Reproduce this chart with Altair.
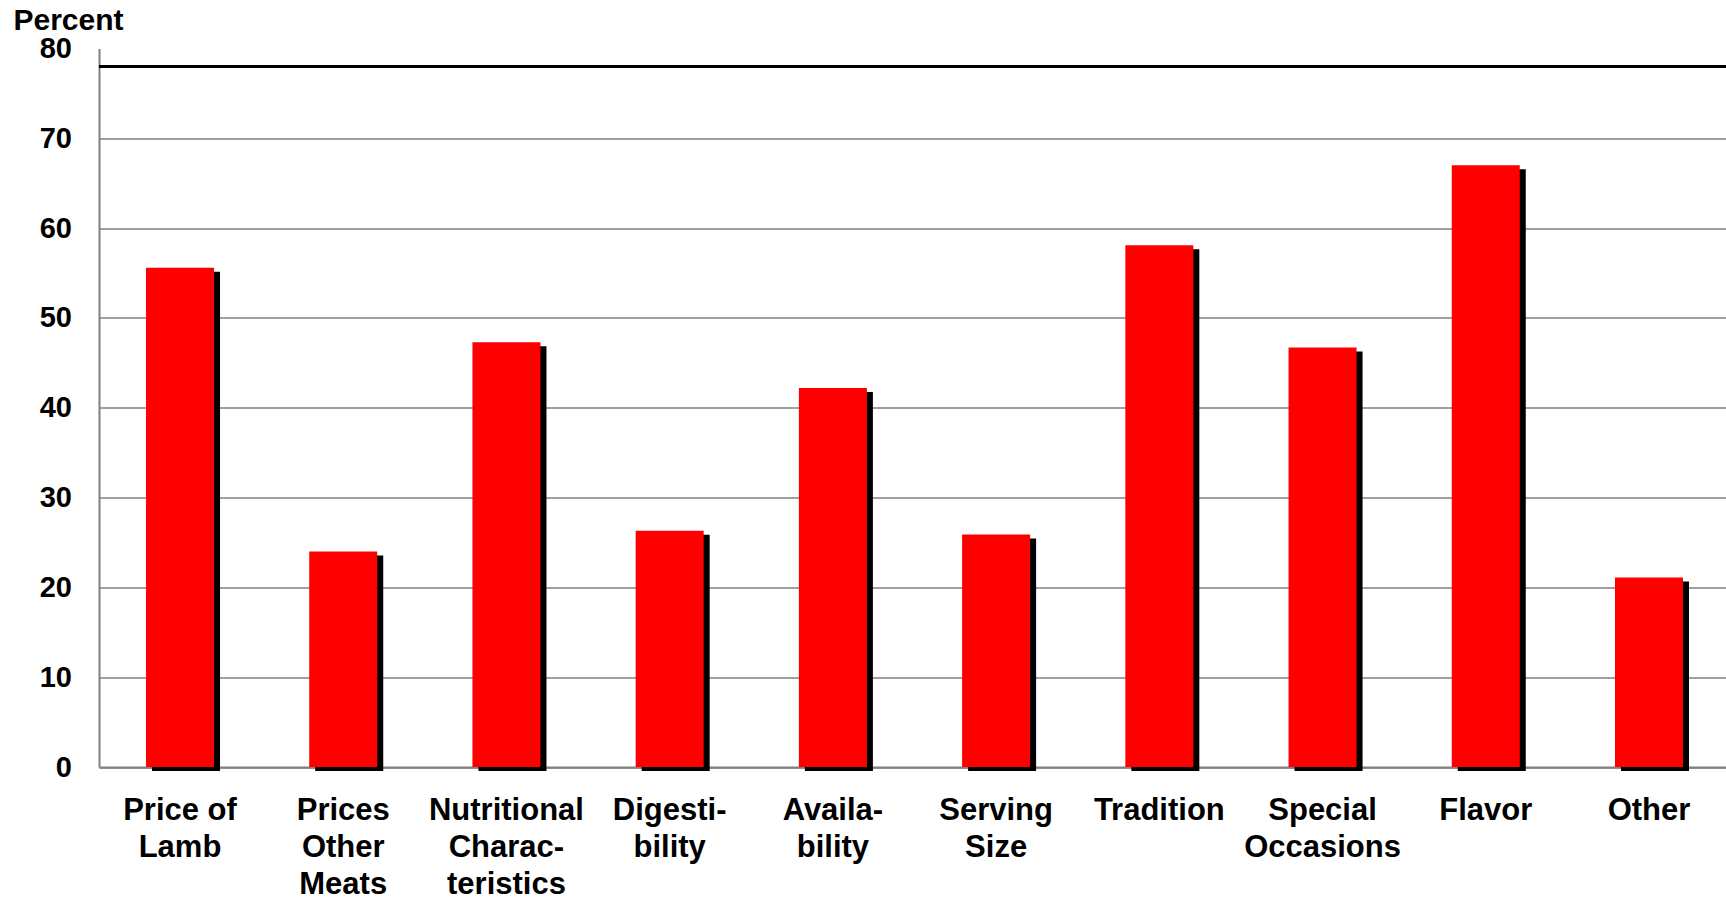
import altair as alt
import pandas as pd

# Factor labels ("|" marks a line break) and share of respondents, percent
categories = [
    "Price of|Lamb",
    "Prices|Other|Meats",
    "Nutritional|Charac-|teristics",
    "Digesti-|bility",
    "Availa-|bility",
    "Serving|Size",
    "Tradition",
    "Special|Occasions",
    "Flavor",
    "Other",
]
percent = [55.6, 24.0, 47.3, 26.3, 42.2, 25.9, 58.1, 46.7, 67.0, 21.1]
y_ticks = [0, 10, 20, 30, 40, 50, 60, 70, 80]
frame_top = [78]

FONT = "Liberation Sans"
GRAY = "#808080"

df = pd.DataFrame({"factor": categories, "percent": percent})
frame_df = pd.DataFrame({"percent": frame_top})

x_enc = alt.X(
    "factor:N",
    sort=None,
    scale=alt.Scale(range=[0, 1631], paddingInner=0.5833, paddingOuter=0.288),
    axis=alt.Axis(
        title=None,
        labelExpr="split(datum.label, '|')",
        labelAngle=0,
        labelAlign="center",
        labelBaseline="top",
        labelFont=FONT,
        labelFontSize=31,
        labelFontWeight="bold",
        labelColor="black",
        labelLineHeight=37,
        labelPadding=28.5,
        ticks=False,
        tickSize=0,
        domainColor=GRAY,
        domainWidth=2,
        grid=False,
    ),
)

y_enc = alt.Y(
    "percent:Q",
    scale=alt.Scale(domain=[0, 80], nice=False),
    axis=alt.Axis(
        values=y_ticks,
        title="Percent",
        titleAngle=0,
        titleAlign="left",
        titleBaseline="alphabetic",
        titleX=-86,
        titleY=-19.5,
        titleFont=FONT,
        titleFontSize=30,
        titleFontWeight="bold",
        titleColor="black",
        labelFont=FONT,
        labelFontSize=29,
        labelFontWeight="bold",
        labelColor="black",
        labelPadding=27.5,
        ticks=False,
        tickSize=0,
        domainColor=GRAY,
        domainWidth=2,
        gridColor=GRAY,
        gridWidth=1.5,
        gridOpacity={"condition": {"test": "datum.value >= 80", "value": 0}, "value": 1},
    ),
)

# heavy black frame line near the top of the plot
frame = alt.Chart(frame_df).mark_rule(color="black", strokeWidth=3).encode(y=y_enc)

base = alt.Chart(df).encode(x=x_enc, y=y_enc)
shadow = base.mark_bar(color="black", xOffset=6, yOffset=4)
bars = base.mark_bar(color="#ff0000")

chart = (
    alt.layer(frame, shadow, bars)
    .properties(
        width=1627,
        height=718.5,
        autosize=alt.AutoSizeParams(type="none"),
        padding={"left": 99, "top": 48.5, "right": 0, "bottom": 128},
        background="white",
    )
    .configure_view(strokeWidth=0)
)

chart.save("out.html", embed_options={"renderer": "svg", "actions": False})
